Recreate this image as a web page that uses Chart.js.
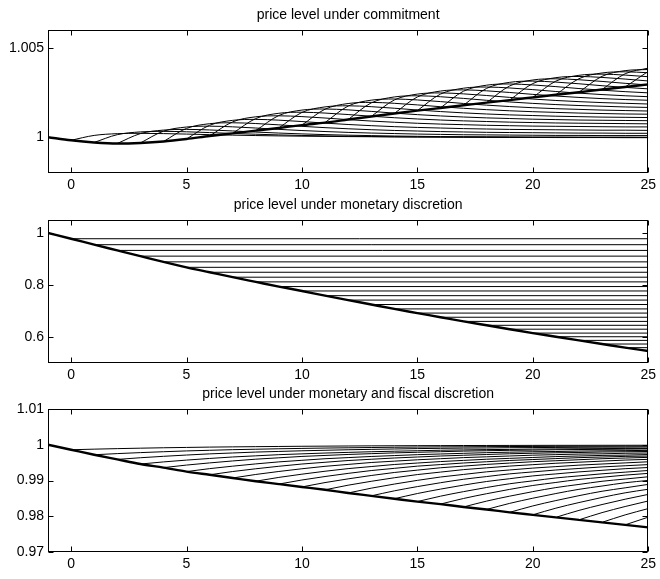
<!DOCTYPE html>
<html>
<head>
<meta charset="utf-8">
<script src="https://cdn.jsdelivr.net/npm/chart.js@4.4.1/dist/chart.umd.min.js"></script>
<style>
  body { margin: 0; background: #fff; }
  #wrap { position: relative; width: 660px; height: 579px; }
  canvas { position: absolute; left: 0; }
</style>
</head>
<body>
<div id="wrap">
  <canvas id="commitChart" width="660" height="200" style="top:0px"></canvas>
  <canvas id="monChart" width="660" height="200" style="top:190px"></canvas>
  <canvas id="fiscChart" width="660" height="200" style="top:379px"></canvas>
</div>
<script>
// periods on the x axis
const times = [-1, 0, 1, 2, 3, 4, 5, 6, 7, 8, 9, 10, 11, 12, 13, 14, 15, 16, 17, 18, 19, 20, 21, 22, 23, 24, 25];
const xTicks = [0, 5, 10, 15, 20, 25];
// periods where a thin line leaves the thick path
const branchStarts = [0, 1, 2, 3, 4, 5, 6, 7, 8, 9, 10, 11, 12, 13, 14, 15, 16, 17, 18, 19, 20, 21, 22, 23, 24];

// thick paths
const commitPath = [1.00000, 0.99983, 0.99971, 0.99965, 0.99968, 0.99976, 0.99990, 1.00007, 1.00022, 1.00037,
  1.00052, 1.00068, 1.00082, 1.00099, 1.00116, 1.00133, 1.00149, 1.00164, 1.00179, 1.00194,
  1.00208, 1.00223, 1.00238, 1.00252, 1.00267, 1.00281, 1.00296];
const monPath = [1.000, 0.978, 0.955, 0.933, 0.911, 0.889, 0.868, 0.849, 0.830, 0.812,
  0.794, 0.777, 0.759, 0.742, 0.725, 0.708, 0.692, 0.676, 0.660, 0.645,
  0.630, 0.615, 0.601, 0.587, 0.573, 0.559, 0.546];
const fiscPath = [1.0000, 0.9986, 0.9972, 0.9959, 0.9946, 0.9936, 0.9925, 0.9916, 0.9907, 0.9898,
  0.9890, 0.9882, 0.9874, 0.9865, 0.9857, 0.9849, 0.9841, 0.9834, 0.9826, 0.9819,
  0.9811, 0.9804, 0.9797, 0.9790, 0.9783, 0.9776, 0.9769];

// thin lines: rise above their starting point (per branch) and the shape of that rise over time
const commitAmp = [0.00039, 0.00062, 0.00079, 0.00094, 0.00105, 0.00110, 0.00113, 0.00118, 0.00121, 0.00124,
  0.00127, 0.00132, 0.00133, 0.00132, 0.00132, 0.00132, 0.00134, 0.00135, 0.00133, 0.00132,
  0.00130, 0.00128, 0.00127, 0.00126, 0.00125];
const commitShape = [0, 0.70, 0.95, 1.00, 0.96, 0.89, 0.81, 0.74, 0.68, 0.63, 0.59, 0.56, 0.53,
  0.51, 0.49, 0.48, 0.47, 0.46, 0.45, 0.45, 0.44, 0.44, 0.44, 0.43, 0.43, 0.43];
const fiscAmp = [0.0013, 0.0025, 0.0036, 0.0046, 0.0055, 0.0063, 0.0070, 0.0076, 0.0082, 0.0088,
  0.0094, 0.0099, 0.0104, 0.0108, 0.0112, 0.0116, 0.0121, 0.0126, 0.0131, 0.0137,
  0.0143, 0.0149, 0.0155, 0.0160, 0.0165];
const fiscShape = [0, 0.13, 0.24, 0.34, 0.43, 0.50, 0.57, 0.62, 0.67, 0.71, 0.75, 0.78, 0.81,
  0.84, 0.86, 0.88, 0.89, 0.91, 0.92, 0.93, 0.94, 0.95, 0.95, 0.96, 0.96, 0.97];

// y axis ticks
const commitTicks = [1, 1.005];
const monTicks = [0.6, 0.8, 1];
const fiscTicks = [0.97, 0.98, 0.99, 1, 1.01];

Chart.defaults.font.family = '"Liberation Sans", Arial, sans-serif';
Chart.defaults.font.size = 14;
Chart.defaults.color = '#000';

// box round the plot, inward ticks on all four sides, title above
const framePlugin = {
  id: 'frame',
  afterDatasetsDraw(chart, args, opts) {
    const { ctx, chartArea: a, scales } = chart;
    const l = Math.round(a.left) + 0.5, r = Math.round(a.right) - 0.5;
    const t = Math.round(a.top) + 0.5, b = Math.round(a.bottom) - 0.5;
    ctx.save();
    ctx.strokeStyle = '#000';
    ctx.lineWidth = 1;
    ctx.strokeRect(l, t, r - l, b - t);
    ctx.beginPath();
    scales.x.ticks.forEach(tk => {
      const px = Math.round(scales.x.getPixelForValue(tk.value)) + 0.5;
      ctx.moveTo(px, b); ctx.lineTo(px, b - 5);
      ctx.moveTo(px, t); ctx.lineTo(px, t + 5);
    });
    scales.y.ticks.forEach(tk => {
      const py = Math.round(scales.y.getPixelForValue(tk.value)) + 0.5;
      ctx.moveTo(l, py); ctx.lineTo(l + 5, py);
      ctx.moveTo(r, py); ctx.lineTo(r - 5, py);
    });
    ctx.stroke();
    ctx.fillStyle = '#000';
    ctx.font = '14px "Liberation Sans", Arial, sans-serif';
    ctx.textAlign = 'center';
    ctx.textBaseline = 'middle';
    ctx.fillText(opts.text, (a.left + a.right) / 2, 15);
    ctx.restore();
  }
};

function risingBranches(path, amp, shape) {
  return branchStarts.map((k, j) => {
    const i0 = times.indexOf(k);
    const pts = [];
    for (let i = i0; i < times.length; i++) {
      pts.push({ x: times[i], y: path[i0] + amp[j] * shape[i - i0] });
    }
    return pts;
  });
}

function holdBranches(path) {
  return branchStarts.map(k => {
    const i0 = times.indexOf(k);
    return [{ x: k, y: path[i0] }, { x: times[times.length - 1], y: path[i0] }];
  });
}

function drawPanel(canvasId, title, path, branches, yMin, yMax, yTicks) {
  const canvas = document.getElementById(canvasId);
  if (!canvas) return;
  const ctx = canvas.getContext('2d');

  const datasets = [{
    data: times.map((t, i) => ({ x: t, y: path[i] })),
    borderColor: '#000',
    borderWidth: 2.4
  }];
  branches.forEach(pts => {
    datasets.push({ data: pts, borderColor: '#000', borderWidth: 1 });
  });

  new Chart(ctx, {
    type: 'line',
    data: { datasets: datasets },
    options: {
      responsive: false,
      animation: false,
      events: [],
      elements: {
        point: { radius: 0 },
        line: { cubicInterpolationMode: 'monotone' }
      },
      layout: { padding: { top: 30, right: 11, left: 0, bottom: 0 } },
      plugins: {
        legend: { display: false },
        tooltip: { enabled: false },
        frame: { text: title }
      },
      scales: {
        x: {
          type: 'linear',
          min: times[0],
          max: times[times.length - 1],
          grid: { display: false, drawTicks: false, tickLength: 0 },
          border: { display: false },
          ticks: { padding: 4, maxRotation: 0, autoSkip: false },
          afterBuildTicks: s => { s.ticks = xTicks.map(v => ({ value: v })); },
          afterFit: s => { s.height = 27; }
        },
        y: {
          min: yMin,
          max: yMax,
          grid: { display: false, drawTicks: false, tickLength: 0 },
          border: { display: false },
          ticks: { padding: 4, callback: v => String(v) },
          afterBuildTicks: s => { s.ticks = yTicks.map(v => ({ value: v })); },
          afterFit: s => { s.width = 48; }
        }
      }
    },
    plugins: [framePlugin]
  });
}

window.onload = function() {
  drawPanel('commitChart', 'price level under commitment', commitPath,
    risingBranches(commitPath, commitAmp, commitShape), 0.998, 1.006, commitTicks);
  drawPanel('monChart', 'price level under monetary discretion', monPath,
    holdBranches(monPath), 0.5, 1.05, monTicks);
  drawPanel('fiscChart', 'price level under monetary and fiscal discretion', fiscPath,
    risingBranches(fiscPath, fiscAmp, fiscShape), 0.97, 1.01, fiscTicks);
};
</script>
</body>
</html>
